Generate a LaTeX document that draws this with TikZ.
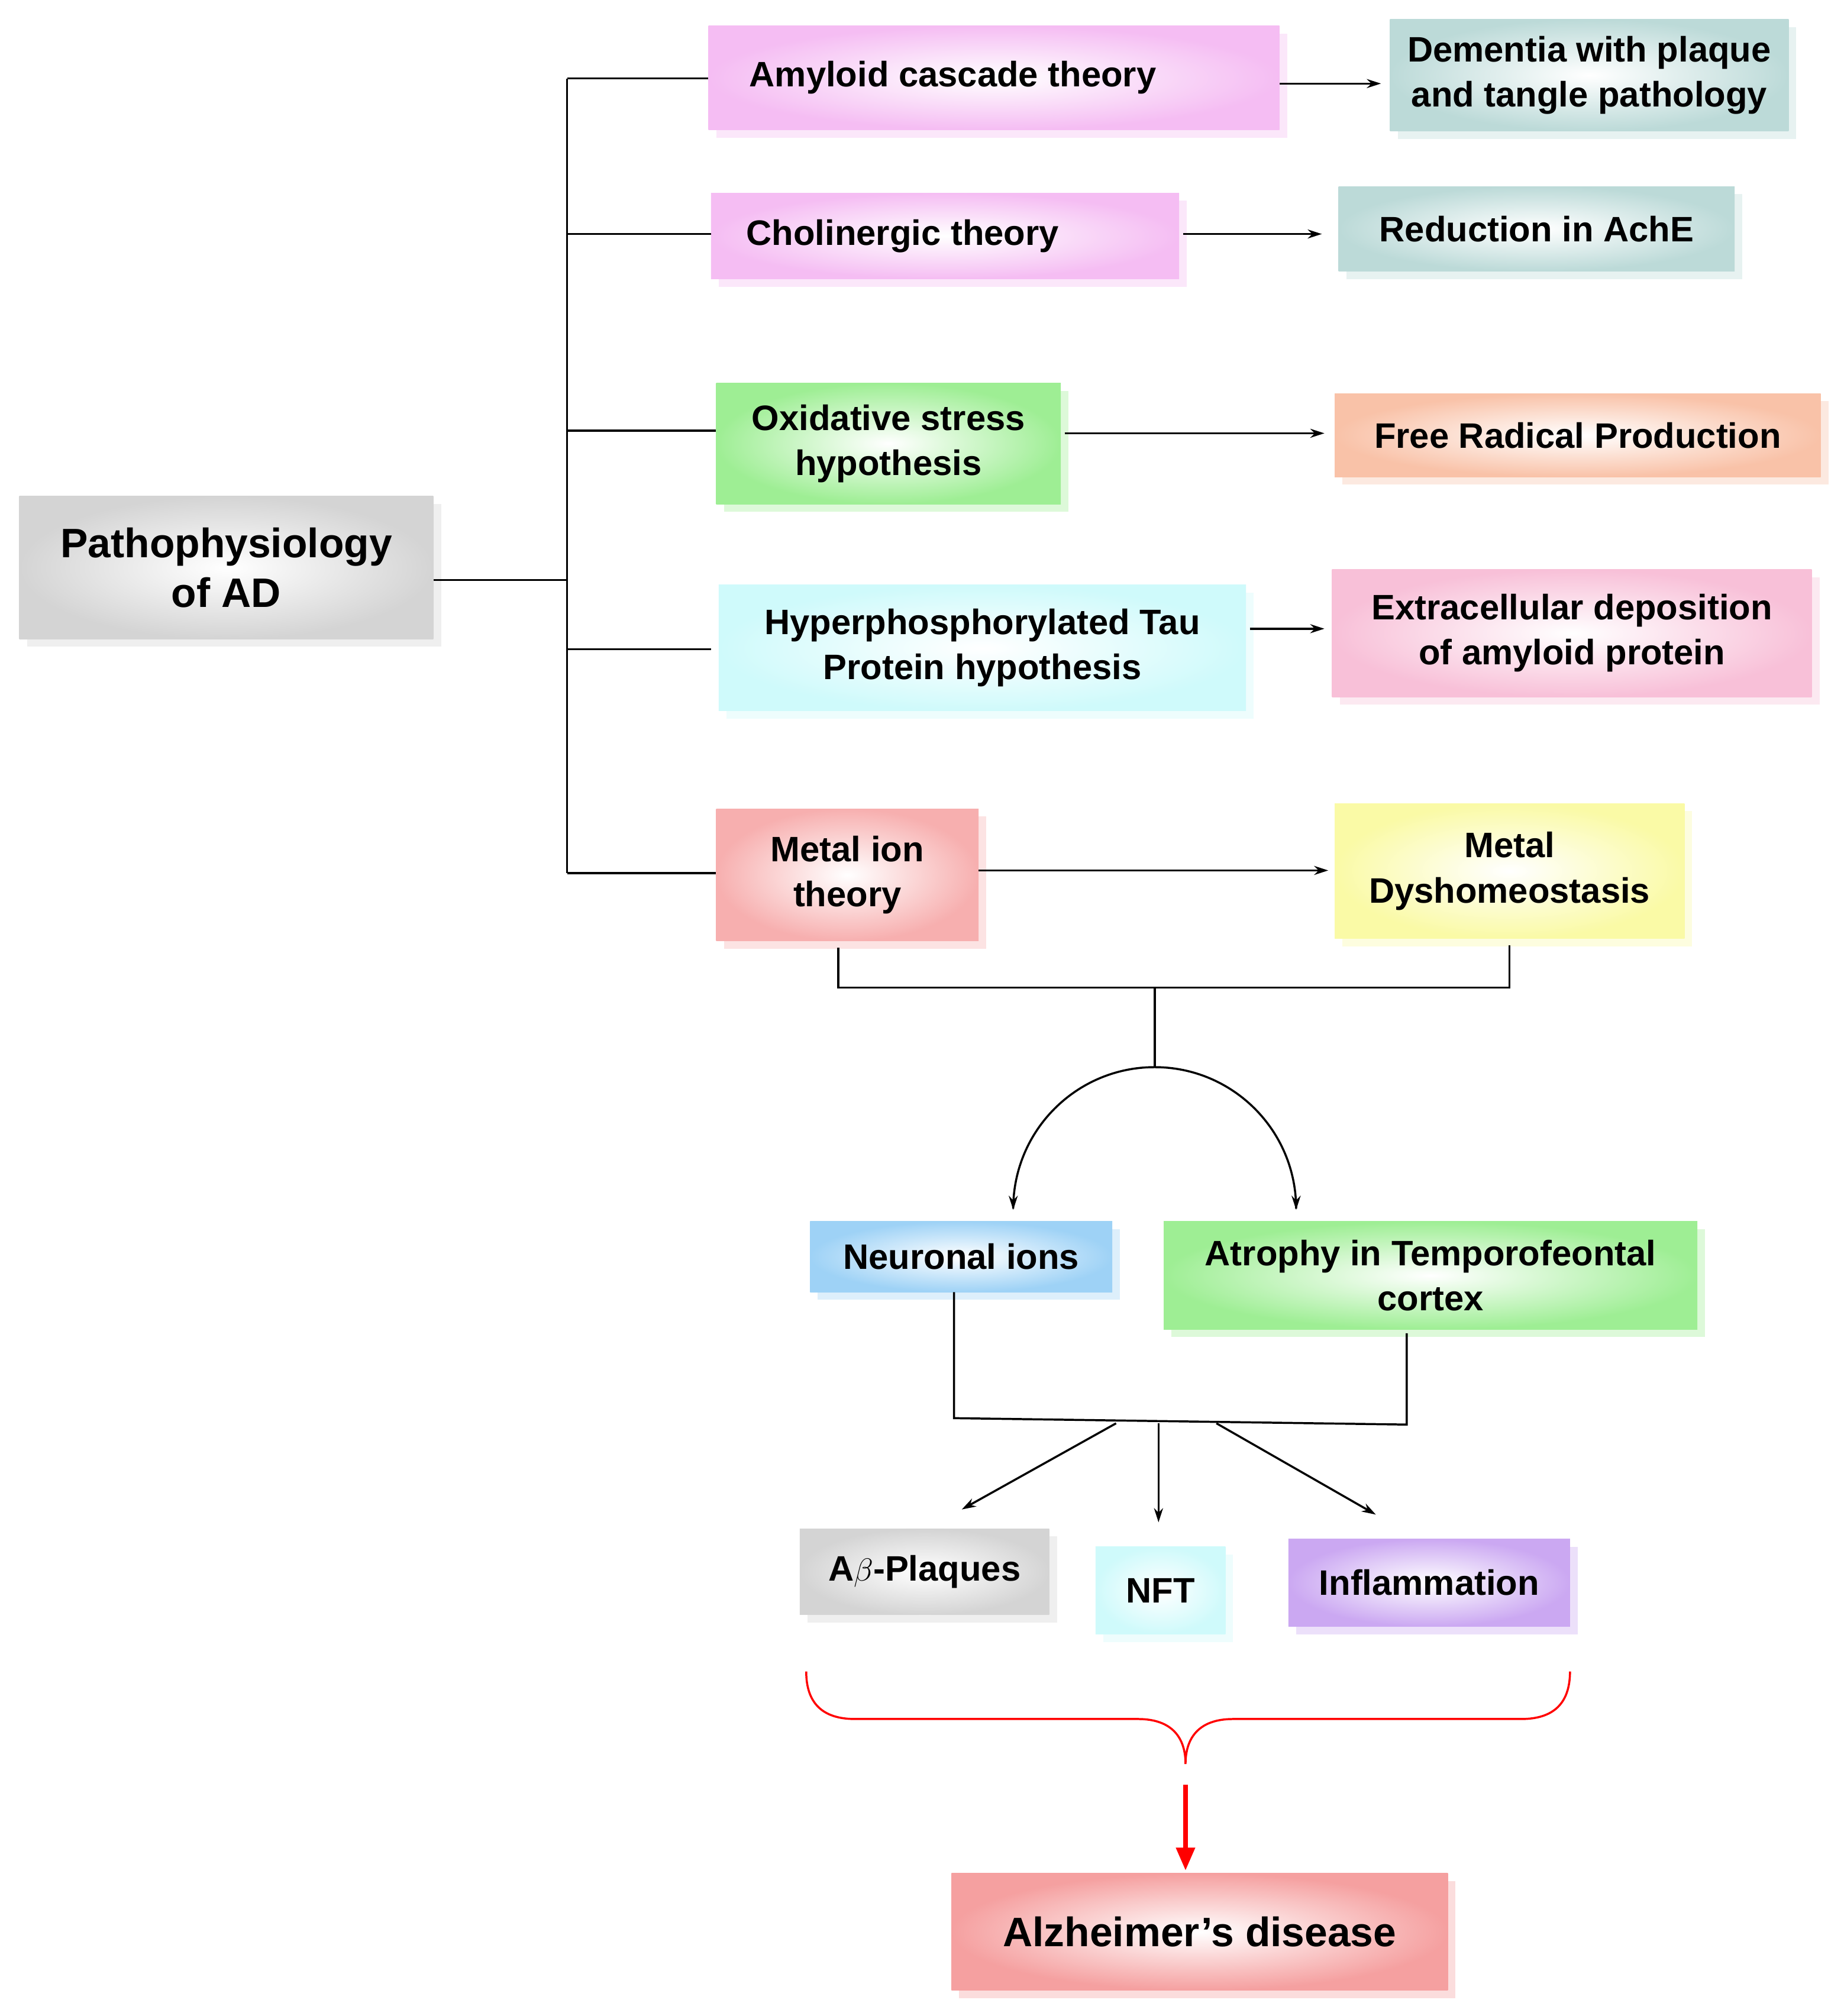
\documentclass[tikz,border=0pt]{standalone}
\usepackage{fontspec}
\setmainfont{Liberation Sans}
\usetikzlibrary{shadows,arrows.meta}
\definecolor{cpink}{HTML}{F5BDF3}
\definecolor{cteal}{HTML}{BCDAD8}
\definecolor{cgreen}{HTML}{9EEE94}
\definecolor{ccyan}{HTML}{CFFAFB}
\definecolor{cred}{HTML}{F7AFAF}
\definecolor{cpeach}{HTML}{F9C2A8}
\definecolor{crose}{HTML}{F8C0D8}
\definecolor{cyel}{HTML}{FAFAA6}
\definecolor{cblue}{HTML}{9ED2F6}
\definecolor{cgray}{HTML}{D4D4D4}
\definecolor{cpurp}{HTML}{CBA8F2}
\definecolor{calz}{HTML}{F5A0A0}
\tikzset{
 box/.style={rectangle, inner color=white, outer color=#1, align=center, inner sep=0pt,
   font=\fontsize{27.5}{35}\selectfont\bfseries,
   drop shadow={shadow xshift=6pt, shadow yshift=-6pt, fill=#1, opacity=0.35}},
 big/.style={font=\fontsize{32}{39}\selectfont\bfseries},
 ln/.style={line width=1.6pt},
 ar/.style={line width=1.6pt, -{Stealth[length=11pt,width=7pt]}},
}
\newcommand{\bx}[8][]{\node[box=#7, #1, minimum width={(#4-#2)*1pt}, minimum height={(#5-#3)*1pt}] (#6) at ({(#2+#4)/2},{(#3+#5)/2}) {#8};}
\begin{document}
\begin{tikzpicture}[x=1pt,y=-1pt]
\useasboundingbox (0,0) rectangle (1434,1568);
\fill[white] (0,0) rectangle (1434,1568);
\bx[big]{15}{386}{337}{497}{path}{cgray}{Pathophysiology\\of AD}
\bx{551}{20}{995}{101}{amy}{cpink}{\hspace*{-64pt}\raisebox{-12pt}{Amyloid cascade theory}}
\bx{553}{150}{917}{217}{chol}{cpink}{\hspace*{-66pt}\raisebox{-2pt}{Cholinergic theory}}
\bx{557}{298}{825}{392}{ox}{cgreen}{Oxidative stress\\hypothesis}
\bx{559}{455}{969}{553}{hyp}{ccyan}{Hyperphosphorylated Tau\\Protein hypothesis}
\bx{557}{629}{761}{732}{met}{cred}{Metal ion\\theory}
\bx{1081}{15}{1391}{102}{dem}{cteal}{Dementia with plaque\\and tangle pathology}
\bx{1041}{145}{1349}{211}{red}{cteal}{Reduction in AchE}
\bx{1038}{306}{1416}{371}{free}{cpeach}{Free Radical Production}
\bx{1036}{443}{1409}{542}{extra}{crose}{Extracellular deposition\\of amyloid protein}
\bx{1038}{625}{1310}{730}{dys}{cyel}{Metal\\Dyshomeostasis}
\bx{630}{950}{865}{1005}{neur}{cblue}{Neuronal ions}
\bx{905}{950}{1320}{1034}{atro}{cgreen}{Atrophy in Temporofeontal\\cortex}
\bx{622}{1189}{816}{1256}{ab}{cgray}{A$\beta$-Plaques}
\bx{852}{1203}{953}{1271}{nft}{ccyan}{NFT}
\bx{1002}{1197}{1221}{1265}{infl}{cpurp}{Inflammation}
\bx[big]{740}{1457}{1126}{1548}{alz}{calz}{Alzheimer{\char"27}s disease}
% tree
\coordinate (tt) at (441,61); \coordinate (tb) at (441,679);
\draw[ln] (path.east |- 0,451) -- (441,451);
\draw[ln] (tt) -- (tb);
\draw[ln] (tt) -- (amy.west |- tt);
\draw[ln] (441,182) -- (chol.west |- 0,182);
\draw[ln] (441,335) -- (ox.west |- 0,335);
\draw[ln] (441,505) -- (553,505);
\draw[ln] (tb) -- (met.west |- tb);
\draw[ar] (amy.east |- 0,65) -- (1074,65);
\draw[ar] (920,182) -- (1028,182);
\draw[ar] (828,337) -- (1030,337);
\draw[ar] (972,489) -- (1030,489);
\draw[ar] (met.east |- 0,677) -- (1033,677);
% merge
\coordinate (m) at (898,768); \coordinate (a) at (898,830);
\draw[ln] (652,737) -- (652,768) -- (1174,768) -- (1174,735);
\draw[ln] (m) -- (a);
\draw[ar] (a) arc[start angle=-90, end angle=-180, radius=110] -- ++(0,1);
\draw[ar] (a) arc[start angle=-90, end angle=0, radius=110] -- ++(0,1);
% second merge
\draw[ln] (742,1005) -- (742,1103) -- (1094,1108) -- (1094,1037);
\draw[ar] (868,1107) -- (748,1174);
\draw[ar] (901,1107) -- (901,1184);
\draw[ar] (946,1107) -- (1070,1178);
% brace
\draw[red, line width=1.6pt] (627,1300) .. controls (627,1325) and (640,1337) .. (665,1337)
  -- (885,1337) .. controls (912,1337) and (922,1352) .. (922,1372)
  .. controls (922,1352) and (932,1337) .. (959,1337) -- (1183,1337)
  .. controls (1208,1337) and (1221,1325) .. (1221,1300);
\draw[red, line width=4pt, -{Triangle[length=18pt,width=14pt]}] (922,1388) -- (922,1455);
\end{tikzpicture}
\end{document}
